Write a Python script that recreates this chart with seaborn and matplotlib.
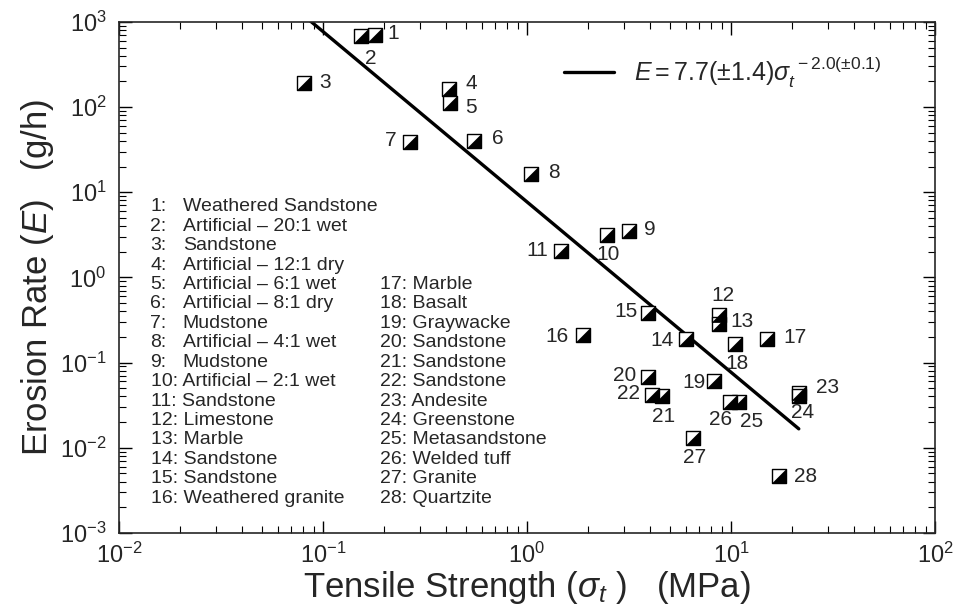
import numpy as np
import pandas as pd
import matplotlib
matplotlib.use("Agg")
import matplotlib.pyplot as plt
import seaborn as sns

# data
ids = list(range(1, 29))
rock = ["Weathered Sandstone", "Artificial \u2013 20:1 wet", "Sandstone", "Artificial \u2013 12:1 dry",
        "Artificial \u2013 6:1 wet", "Artificial \u2013 8:1 dry", "Mudstone", "Artificial \u2013 4:1 wet",
        "Mudstone", "Artificial \u2013 2:1 wet", "Sandstone", "Limestone", "Marble", "Sandstone",
        "Sandstone", "Weathered granite", "Marble", "Basalt", "Graywacke", "Sandstone", "Sandstone",
        "Sandstone", "Andesite", "Greenstone", "Metasandstone", "Welded tuff", "Granite", "Quartzite"]
tensile = [0.18, 0.153, 0.081, 0.415, 0.42, 0.55, 0.267, 1.05, 3.16, 2.47, 1.47, 8.7, 8.7, 6.0,
           3.92, 1.88, 15.0, 10.5, 8.3, 3.92, 4.6, 4.1, 21.5, 21.5, 10.9, 9.9, 6.5, 17.2]
erosion = [703, 685, 192, 164, 112, 40, 39, 16.4, 3.5, 3.16, 2.05, 0.36, 0.28, 0.19, 0.385,
           0.21, 0.19, 0.166, 0.061, 0.068, 0.041, 0.042, 0.044, 0.041, 0.034, 0.034, 0.013, 0.0046]

# fit E = a * sigma^b
fit_a = 7.7
fit_b = -2.0
fit_range = [0.0817, 21.5]

# where each number label sits relative to its marker (points)
label_offsets = [(13, 1), (7, -16), (15, 0), (16, 4), (15, -3), (17, 2), (-14, 1), (16, 1),
                 (15, 1), (1, -14), (-17, 0), (3, 14), (17, 2), (-17, -1), (-16, 1), (-19, -1),
                 (20, 1), (1, -14), (-15, -1), (-17, 1), (1, -15), (-17, 1), (21, 4), (3, -12),
                 (9, -14), (-7, -12), (1, -14), (19, 0)]

df = pd.DataFrame({"id": ids, "rock": rock, "sigma": tensile, "E": erosion})
fit_x = np.array(fit_range)
fit = pd.DataFrame({"sigma": fit_x, "E": fit_a * fit_x ** fit_b})

sns.set_style("ticks")
plt.rcParams["font.family"] = ["Liberation Sans", "DejaVu Sans"]
plt.rcParams["mathtext.fontset"] = "custom"
plt.rcParams["mathtext.rm"] = "Liberation Sans"
plt.rcParams["mathtext.it"] = "Liberation Sans:italic"
plt.rcParams["axes.unicode_minus"] = False

fig = plt.figure(figsize=(9.56, 6.09), dpi=100)
ax = fig.add_axes([0.1245, 0.125, 0.8535, 0.839])

sns.lineplot(data=fit, x="sigma", y="E", color="black", lw=2.4, ax=ax,
             label=r"$E = 7.7(\pm1.4)\sigma_t^{\ -2.0(\pm0.1)}$")

# half-filled squares: white square, black lower-right triangle on top
tri = [(-1, -1), (1, -1), (1, 1), (-1, -1)]
sns.scatterplot(data=df, x="sigma", y="E", marker="s", s=105, color="white",
                edgecolor="black", linewidth=1.0, ax=ax, zorder=3)
sns.scatterplot(data=df, x="sigma", y="E", marker=tri, s=105, color="black",
                edgecolor="black", linewidth=0.5, ax=ax, zorder=4)

for (i, sx, ey), off in zip(df[["id", "sigma", "E"]].values, label_offsets):
    ax.annotate(str(int(i)), (sx, ey), xytext=off, textcoords="offset points",
                ha="center", va="center", fontsize=15)

ax.set_xscale("log")
ax.set_yscale("log")
ax.set_xlim(1e-2, 1e2)
ax.set_ylim(1e-3, 1e3)
ax.tick_params(which="both", direction="in", top=True, right=True, color="black")
ax.tick_params(which="major", length=9, width=1, labelsize=17)
ax.tick_params(which="minor", length=5, width=0.8)
ax.tick_params(axis="x", which="major", pad=7)
ax.tick_params(axis="y", which="major", pad=9)
for sp in ax.spines.values():
    sp.set_linewidth(1.2)

ax.set_xlabel(r"Tensile Strength ($\sigma_t$ )   (MPa)", fontsize=25, labelpad=1)
ax.set_ylabel(r"Erosion Rate ($E$)   (g/h)", fontsize=25, labelpad=3)

# numbered key, two columns
row0, dy = 0.638, 0.038
for k, (i, name) in enumerate(zip(ids, rock)):
    if k < 16:
        y = row0 - k * dy
        if i < 10:
            ax.text(0.038, y, f"{i}:", transform=ax.transAxes, fontsize=14, va="center")
            ax.text(0.078, y, name, transform=ax.transAxes, fontsize=14, va="center")
        else:
            ax.text(0.039, y, f"{i}: {name}", transform=ax.transAxes, fontsize=14, va="center")
    else:
        y = row0 - (k - 12) * dy
        ax.text(0.320, y, f"{i}: {name}", transform=ax.transAxes, fontsize=14, va="center")

ax.legend(loc="center left", bbox_to_anchor=(0.545, 0.902), frameon=False, fontsize=18,
          handlelength=2.0, handletextpad=0.8, borderpad=0, borderaxespad=0)

fig.savefig("out.png", dpi=100)
